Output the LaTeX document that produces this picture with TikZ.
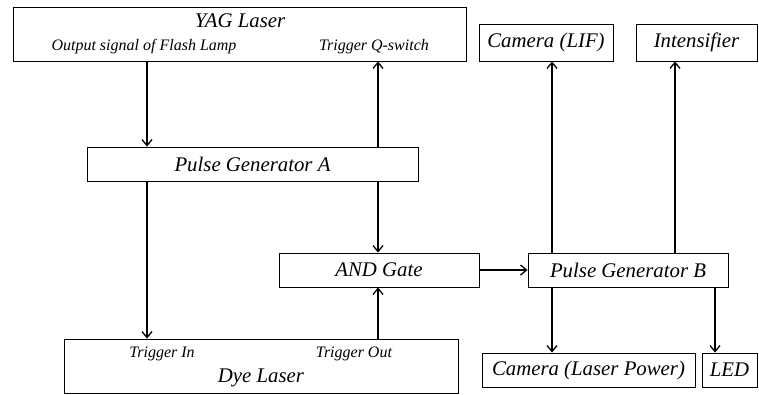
\documentclass[tikz,border=0pt]{standalone}
\usepackage{fontspec}
\setmainfont{Liberation Serif}
\usetikzlibrary{arrows.meta}
\tikzset{
  unit/.style={draw,line width=0.9pt,inner sep=0pt},
  big/.style={font=\fontsize{20.8}{22}\selectfont\itshape,inner sep=0pt},
  small/.style={font=\fontsize{16}{18}\selectfont\itshape,inner sep=0pt},
  sig/.style={draw,line width=1.3pt,-{Straight Barb[length=6pt,width=10pt,line width=1.3pt]}}
}

\begin{document}
\begin{tikzpicture}[x=1pt,y=-1pt]
  \useasboundingbox (0,0) rectangle (759,394);
  % boxes
  \node[unit,minimum width=453pt,minimum height=54pt] (yag) at (239.5,34) {};
  \node[unit,minimum width=134pt,minimum height=37pt,big] (lif) at (546,42.5) {Camera (LIF)};
  \node[unit,minimum width=121pt,minimum height=37pt,big] (intens) at (696.5,42.5) {Intensifier};
  \node[unit,minimum width=331pt,minimum height=34pt,big] (pga) at (252.5,164) {Pulse Generator A};
  \node[unit,minimum width=200pt,minimum height=34pt,big] (andg) at (379,270) {AND Gate};
  \node[unit,minimum width=200pt,minimum height=34pt,big] (pgb) at (628,270) {Pulse Generator B};
  \node[unit,minimum width=213pt,minimum height=34pt,big] (campow) at (588.5,370) {Camera (Laser Power)};
  \node[unit,minimum width=55pt,minimum height=34pt,big] (led) at (729.5,370) {LED};
  \node[unit,minimum width=394pt,minimum height=54pt] (dye) at (261,366) {};
  % texts inside the lasers
  \node[big] (yagname) at (240,21) {YAG Laser};
  \node[small] (flash) at (144,47) {Output signal of Flash Lamp};
  \node[small] (qswitch) at (374,47) {Trigger Q-switch};
  \node[small] (trigin) at (162,354) {Trigger In};
  \node[small] (trigout) at (354,354) {Trigger Out};
  \node[big] (dyename) at (261,378) {Dye Laser};
  % signals
  \draw[sig] (yag.south -| 147,0) -- (pga.north -| 147,0);
  \draw[sig] (pga.north -| 378,0) -- (yag.south -| 378,0);
  \draw[sig] (pga.south -| 147,0) -- (dye.north -| 147,0);
  \draw[sig] (pga.south -| 378,0) -- (andg.north -| 378,0);
  \draw[sig] (dye.north -| 378,0) -- (andg.south -| 378,0);
  \draw[sig] (andg.east) -- (pgb.west);
  \draw[sig] (pgb.north -| 552,0) -- (lif.south -| 552,0);
  \draw[sig] (pgb.north -| 675,0) -- (intens.south -| 675,0);
  \draw[sig] (pgb.south -| 552,0) -- (campow.north -| 552,0);
  \draw[sig] (pgb.south -| 715,0) -- (led.north -| 715,0);
\end{tikzpicture}
\end{document}
